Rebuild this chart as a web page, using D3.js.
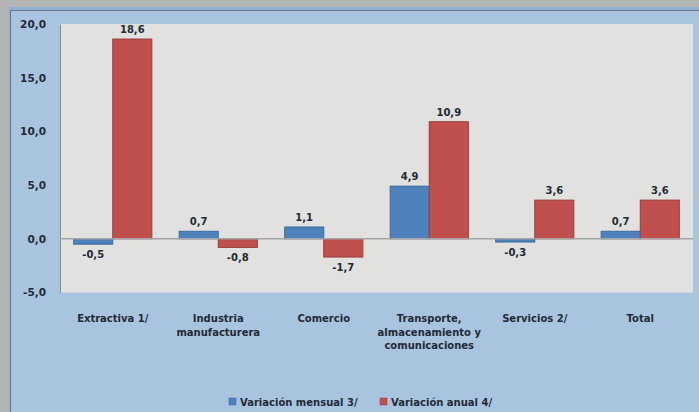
<!DOCTYPE html>
<html>
<head>
<meta charset="utf-8">
<script src="https://cdn.jsdelivr.net/npm/d3@7/dist/d3.min.js"></script>
<style>
  body { margin: 0; background: #b3b5b4; }
  text { font-family: "DejaVu Sans", Verdana, sans-serif; font-weight: bold; fill: #222a35; }
</style>
</head>
<body>
<div id="chart"></div>
<script>
// datos del grafico
var categorias = ["Extractiva 1/", "Industria|manufacturera", "Comercio", "Transporte,|almacenamiento y|comunicaciones", "Servicios 2/", "Total"];
var mensual = [-0.5, 0.7, 1.1, 4.9, -0.3, 0.7];
var anual = [18.6, -0.8, -1.7, 10.9, 3.6, 3.6];
var series = ["Variación mensual 3/", "Variación anual 4/"];
var yTicks = [-5, 0, 5, 10, 15, 20];

var w = 699, h = 412;
var pLeft = 60, pRight = 693, pTop = 24, pBottom = 292.5;
var colors = ["#4f81bd", "#c0504d"];
var strokes = ["#3d6a9e", "#973d3a"];

var svg = d3.select("#chart").append("svg")
  .attr("width", w).attr("height", h);

// fondo
svg.append("rect").attr("x", 0).attr("y", 0).attr("width", w).attr("height", h).attr("fill", "#b3b5b4");
svg.append("rect").attr("x", 9).attr("y", 7).attr("width", w - 9).attr("height", h - 7).attr("fill", "#8fb1d6");
svg.append("rect").attr("x", 10).attr("y", 10).attr("width", w - 10).attr("height", h - 10).attr("fill", "#6d7781");
svg.append("rect").attr("x", 11).attr("y", 11).attr("width", w - 11).attr("height", h - 11).attr("fill", "#a9c4df");

// area de trazado
svg.append("rect").attr("x", pLeft).attr("y", pTop).attr("width", pRight - pLeft).attr("height", pBottom - pTop)
  .attr("fill", "#e1e1e0");

var x0 = d3.scaleBand().domain(d3.range(categorias.length)).range([pLeft, pRight]);
var x1 = d3.scaleBand().domain([0, 1]).range([0, x0.bandwidth()]).paddingOuter(0.35).paddingInner(0);
var y = d3.scaleLinear().domain([-5, 20]).range([pBottom, pTop]);

var fmt = function(v) { return d3.format(".1f")(v).replace(".", ",").replace("−", "-"); };

// eje y
var yAxis = d3.axisLeft(y).tickValues(yTicks).tickSize(0).tickPadding(14).tickFormat(fmt);
var gy = svg.append("g").attr("transform", "translate(" + pLeft + ",0)").call(yAxis);
gy.select(".domain").attr("stroke", "#8a8a8a");
gy.selectAll("text").attr("font-size", 10.5).style("font-family", "DejaVu Sans, sans-serif").attr("fill", "#222a35");

// barras
var data = [mensual, anual];
data.forEach(function(vals, s) {
  svg.append("g").selectAll("rect")
    .data(vals).enter().append("rect")
    .attr("x", function(d, i) { return x0(i) + x1(s); })
    .attr("y", function(d) { return y(Math.max(0, d)); })
    .attr("width", x1.bandwidth())
    .attr("height", function(d) { return Math.abs(y(d) - y(0)); })
    .attr("fill", colors[s])
    .attr("stroke", strokes[s])
    .attr("stroke-width", 1);
});

// linea cero
svg.append("line").attr("x1", pLeft).attr("x2", pRight).attr("y1", y(0)).attr("y2", y(0))
  .attr("stroke", "#a5a5a5").attr("stroke-width", 1.5);

// etiquetas de datos
data.forEach(function(vals, s) {
  svg.append("g").selectAll("text")
    .data(vals).enter().append("text")
    .attr("x", function(d, i) { return x0(i) + x1(s) + x1.bandwidth() / 2; })
    .attr("y", function(d) { return d >= 0 ? y(d) - 6 : y(d) + 14; })
    .attr("text-anchor", "middle")
    .attr("font-size", 10)
    .text(fmt);
});

// categorias
svg.append("g").selectAll("text")
  .data(categorias).enter().append("text")
  .attr("x", function(d, i) { return x0(i) + x0.bandwidth() / 2; })
  .attr("y", 322)
  .attr("text-anchor", "middle")
  .attr("font-size", 10)
  .each(function(d) {
    var t = d3.select(this);
    d.split("|").forEach(function(line, k) {
      t.append("tspan").attr("x", t.attr("x")).attr("dy", k === 0 ? 0 : 13.5).text(line);
    });
  });

// leyenda
var legX = [229, 380];
series.forEach(function(name, s) {
  svg.append("rect").attr("x", legX[s]).attr("y", 398).attr("width", 7).attr("height", 7)
    .attr("fill", colors[s]).attr("stroke", strokes[s]).attr("stroke-width", 0.5);
  svg.append("text").attr("x", legX[s] + 11).attr("y", 406).attr("font-size", 10).text(name);
});
</script>
</body>
</html>
